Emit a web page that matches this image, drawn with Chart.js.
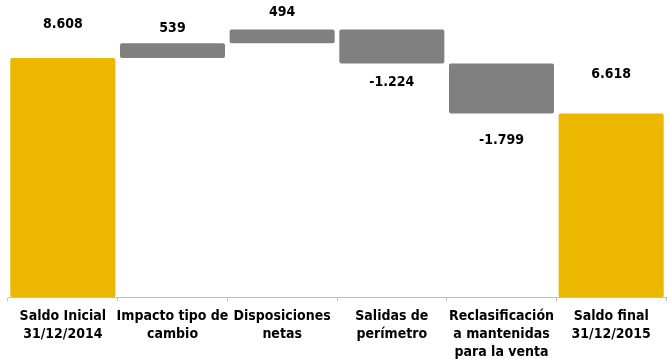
<!DOCTYPE html>
<html>
<head>
<meta charset="utf-8">
<script src="https://cdn.jsdelivr.net/npm/chart.js@4.4.1/dist/chart.umd.min.js"></script>
<style>
  body { margin: 0; background: #fff; }
  #wrap { width: 671px; height: 359px; }
</style>
</head>
<body>
<div id="wrap"><canvas id="chart" width="671" height="359"></canvas></div>
<script>
// Categories (x-axis labels, multi-line)
const categories = [
  ["Saldo Inicial", "31/12/2014"],
  ["Impacto tipo de", "cambio"],
  ["Disposiciones", "netas"],
  ["Salidas de", "perímetro"],
  ["Reclasificación", "a mantenidas", "para la venta"],
  ["Saldo final", "31/12/2015"]
];
// Values: totals are absolute, the rest are changes
const values = [8608, 539, 494, -1224, -1799, 6618];
const isTotal = [true, false, false, false, false, true];

// build floating bars from the running total
let running = 0;
const bars = values.map((v, i) => {
  if (isTotal[i]) { running = v; return [0, v]; }
  const start = running;
  running += v;
  return [start, running];
});

const gold = "#EBB700";
const gray = "#808080";
const fontFamily = "'DejaVu Sans Condensed', Tahoma, 'Liberation Sans', sans-serif";

function fmt(n) {
  const s = Math.abs(n).toString().replace(/\B(?=(\d{3})+(?!\d))/g, ".");
  return (n < 0 ? "-" : "") + s;
}

const valueLabels = {
  id: "valueLabels",
  afterDatasetsDraw(chart, args, opts) {
    const ctx = chart.ctx;
    const meta = chart.getDatasetMeta(0);
    ctx.save();
    ctx.font = "bold 14px " + fontFamily;
    ctx.fillStyle = "#000";
    ctx.textAlign = "center";
    ctx.textBaseline = "middle";
    meta.data.forEach((bar, i) => {
      const top = Math.min(bar.y, bar.base);
      const bottom = Math.max(bar.y, bar.base);
      const gap = opts.gaps[i];
      const y = values[i] < 0 ? bottom + gap : top - gap;
      ctx.fillText(fmt(values[i]), bar.x, y);
    });
    ctx.restore();
  }
};

new Chart(document.getElementById("chart"), {
  type: "bar",
  data: {
    labels: categories,
    datasets: [{
      data: bars,
      backgroundColor: values.map((v, i) => isTotal[i] ? gold : gray),
      borderRadius: 2,
      borderSkipped: false,
      categoryPercentage: 1,
      barPercentage: 0.958
    }]
  },
  options: {
    responsive: false,
    animation: false,
    layout: { padding: { left: 8, right: 5, top: 0, bottom: -8 } },
    plugins: {
      legend: { display: false },
      tooltip: { enabled: false },
      valueLabels: { gaps: [34, 15, 17, 19, 27, 39] }
    },
    scales: {
      x: {
        grid: {
          drawOnChartArea: false,
          drawTicks: true,
          tickLength: 4,
          color: "#BFBFBF"
        },
        border: { display: true, color: "#BFBFBF" },
        ticks: {
          maxRotation: 0,
          autoSkip: false,
          padding: 6,
          color: "#000",
          font: { family: fontFamily, size: 14, weight: "bold", lineHeight: 1.28 }
        }
      },
      y: {
        display: false,
        min: 0,
        max: 10700
      }
    }
  },
  plugins: [valueLabels]
});
</script>
</body>
</html>
